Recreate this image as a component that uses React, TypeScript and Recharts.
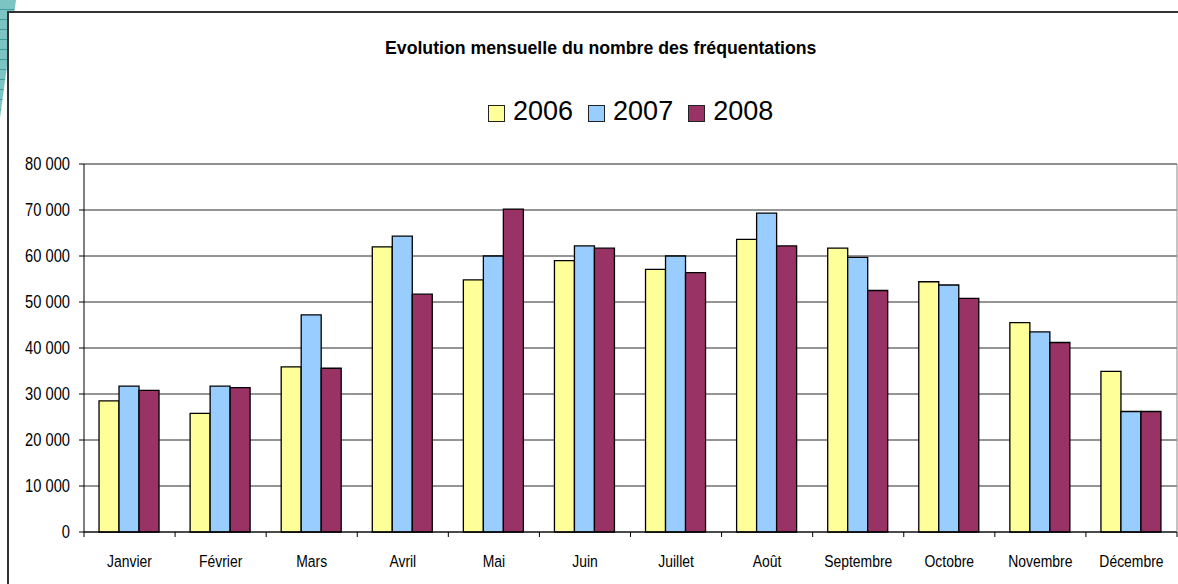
import { BarChart, Bar, XAxis, YAxis, CartesianGrid, ReferenceLine } from 'recharts'

const months = ['Janvier', 'Février', 'Mars', 'Avril', 'Mai', 'Juin', 'Juillet', 'Août', 'Septembre', 'Octobre', 'Novembre', 'Décembre']
const v2006 = [28500, 25800, 35900, 62000, 54800, 59000, 57100, 63600, 61700, 54400, 45500, 34900]
const v2007 = [31700, 31700, 47200, 64300, 60000, 62200, 60000, 69300, 59700, 53700, 43500, 26200]
const v2008 = [30800, 31400, 35600, 51700, 70200, 61700, 56400, 62200, 52500, 50800, 41200, 26200]
const yTicks = [0, 10000, 20000, 30000, 40000, 50000, 60000, 70000, 80000]

const series = [
  { key: 'y2006', name: '2006', color: '#FFFF99' },
  { key: 'y2007', name: '2007', color: '#99CCFF' },
  { key: 'y2008', name: '2008', color: '#993366' },
]

const data = months.map((m, i) => ({ mois: m, y2006: v2006[i], y2007: v2007[i], y2008: v2008[i] }))

const sans = '"Liberation Sans", Arial, sans-serif'

const fmtY = (v: number) => (v === 0 ? '0' : `${v / 1000} 000`)

// condensed look of the original: tall glyphs squeezed horizontally
function MonthTick(props: any) {
  const { x, y, payload, index, visibleTicksCount } = props
  const half = payload?.offset ?? 45.5
  const last = index === visibleTicksCount - 1
  return (
    <g>
      <line x1={x - half} y1={y} x2={x - half} y2={y + 5} stroke="#000" />
      {last && <line x1={x + half} y1={y} x2={x + half} y2={y + 5} stroke="#000" />}
      <text transform={`translate(${x},${y + 35}) scale(0.82,1)`} textAnchor="middle" fontSize={17} fontFamily={sans} fill="#000">
        {payload.value}
      </text>
    </g>
  )
}

function ValueTick(props: any) {
  const { x, y, payload } = props
  return (
    <text transform={`translate(${x},${y}) scale(0.84,1)`} textAnchor="end" dominantBaseline="central" fontSize={17.5} fontFamily={sans} fill="#000">
      {fmtY(payload.value)}
    </text>
  )
}

export default function App() {
  return (
    <div style={{ position: 'absolute', left: 0, top: 0, width: 1178, height: 584, overflow: 'hidden', background: '#fff' }}>
      <svg width={20} height={130} style={{ position: 'absolute', left: 0, top: 0 }}>
        <defs>
          <pattern id="stripes" width="4" height="10" patternUnits="userSpaceOnUse">
            <rect width="4" height="10" fill="#7cc4c4" />
            <line x1="0" y1="9.5" x2="4" y2="9.5" stroke="#3f9a9a" />
          </pattern>
        </defs>
        <polygon points="0,0 16,0 0,118" fill="url(#stripes)" />
      </svg>
      <div
        style={{
          position: 'absolute', left: 7, top: 11, width: 1200, height: 600,
          borderLeft: '2px solid #333', borderTop: '2px solid #333', background: '#fff',
        }}
      />
      <div style={{ position: 'absolute', left: 385, top: 38, fontFamily: sans, fontWeight: 700, fontSize: 17.7, lineHeight: '18px', whiteSpace: 'nowrap', color: '#000', transform: 'scale(1,1.05)', transformOrigin: 'left top' }}>
        Evolution mensuelle du nombre des fréquentations
      </div>
      <div style={{ position: 'absolute', left: 488, top: 98, display: 'flex', alignItems: 'flex-start', fontFamily: sans, fontSize: 27, lineHeight: '27px', color: '#000' }}>
        {series.map(s => (
          <div key={s.key} style={{ display: 'flex', alignItems: 'flex-start', marginRight: 15 }}>
            <span style={{ width: 15, height: 15, marginTop: 7, marginRight: 8, background: s.color, border: '1px solid #222', display: 'inline-block' }} />
            <span>{s.name}</span>
          </div>
        ))}
      </div>
      <div style={{ position: 'absolute', left: 0, top: 0 }}>
        <BarChart width={1178} height={584} data={data} margin={{ top: 164, right: 0, bottom: 0, left: 8 }} barCategoryGap="16.5%" barGap={0}>
          <CartesianGrid vertical={false} stroke="#2a2a2a" />
          <ReferenceLine y={80000} stroke="#8a8a8a" />
          <XAxis dataKey="mois" interval={0} height={52} tickSize={0} tickMargin={0} tickLine={false} axisLine={{ stroke: '#000' }} tick={<MonthTick />} />
          <YAxis
            width={76} domain={[0, 80000]} ticks={yTicks} interval={0}
            tickSize={5} tickMargin={9} tickLine={{ stroke: '#000' }} axisLine={{ stroke: '#000' }}
            tick={<ValueTick />}
          />
          <YAxis yAxisId="right" orientation="right" width={1} domain={[0, 80000]} tick={false} tickLine={false} axisLine={{ stroke: '#8a8a8a' }} />
          {series.map(s => (
            <Bar key={s.key} dataKey={s.key} name={s.name} fill={s.color} stroke="#000" strokeWidth={1.3} isAnimationActive={false} />
          ))}
        </BarChart>
      </div>
    </div>
  )
}
